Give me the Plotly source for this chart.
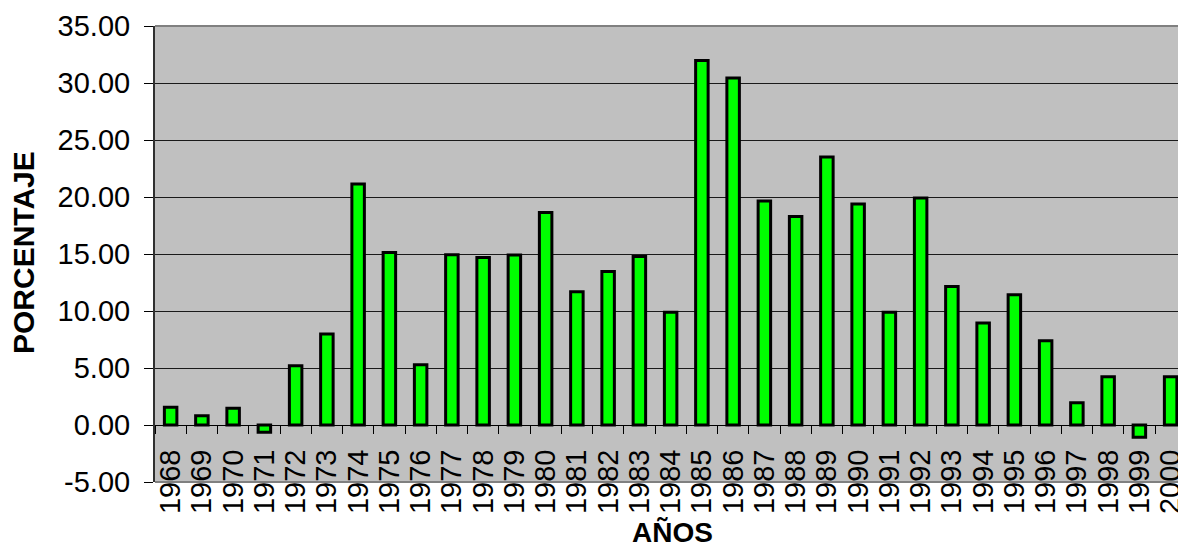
import plotly.graph_objects as go

# Annual percentage values, 1968-2000
years = [str(y) for y in range(1968, 2001)]
porcentaje = [
    1.55, 0.82, 1.46, -0.64, 5.20, 7.98, 21.14, 15.14, 5.29, 14.94,
    14.70, 14.91, 18.65, 11.69, 13.47, 14.79, 9.88, 31.98, 30.44, 19.65,
    18.30, 23.50, 19.39, 9.88, 19.91, 12.16, 8.95, 11.43, 7.39, 1.95,
    4.23, -1.08, 4.23,
]
y_ticks = [-5, 0, 5, 10, 15, 20, 25, 30, 35]
y_tick_text = [f"{v:.2f}" for v in y_ticks]

FONT = "Arial, 'Liberation Sans', sans-serif"
W, H = 1178, 548
L, R, T, B = 155, 0, 26, 66

fig = go.Figure(
    go.Bar(
        x=years,
        y=porcentaje,
        marker=dict(color="#00FF00", line=dict(color="#000000", width=3)),
        showlegend=False,
    )
)

fig.update_layout(
    width=W,
    height=H,
    margin=dict(l=L, r=R, t=T, b=B, pad=0, autoexpand=False),
    paper_bgcolor="#FFFFFF",
    plot_bgcolor="#C0C0C0",
    bargap=0.6,
    font=dict(family=FONT, size=29, color="#000000"),
    xaxis=dict(
        type="category",
        range=[-0.5, 32.236],
        anchor="free",
        position=5 / 40,
        automargin=False,
        tickmode="array",
        tickvals=years,
        ticktext=years,
        showline=True,
        linecolor="#000000",
        linewidth=1,
        ticks="outside",
        tickson="boundaries",
        ticklen=8,
        tickcolor="#000000",
        tickangle=-90,
        ticklabelstandoff=12,
        tickfont=dict(size=29),
        showgrid=False,
        zeroline=False,
    ),
    yaxis=dict(
        range=[-5, 35],
        automargin=False,
        tickvals=y_ticks,
        ticktext=y_tick_text,
        ticks="outside",
        ticklen=9,
        tickcolor="#000000",
        ticklabelstandoff=8,
        showline=True,
        linecolor="#303030",
        linewidth=2,
        showgrid=True,
        gridcolor="#1a1a1a",
        gridwidth=1,
        zeroline=False,
        tickfont=dict(size=29),
    ),
    shapes=[
        # plot-area frame (top and bottom edges)
        dict(type="line", xref="paper", yref="paper", x0=0, x1=1, y0=1, y1=1,
             line=dict(color="#808080", width=2)),
        dict(type="line", xref="paper", yref="paper", x0=0, x1=1, y0=0, y1=0,
             line=dict(color="#808080", width=2)),
    ],
    annotations=[
        dict(text="<b>PORCENTAJE</b>", xref="paper", yref="paper",
             x=(23 - L) / (W - L - R), y=(H - B - 253) / (H - T - B),
             xanchor="center", yanchor="middle", textangle=-90,
             showarrow=False, font=dict(size=30, family=FONT)),
        dict(text="<b>AÑOS</b>", xref="paper", yref="paper",
             x=(672 - L) / (W - L - R), y=(H - B - 532) / (H - T - B),
             xanchor="center", yanchor="middle",
             showarrow=False, font=dict(size=28, family=FONT)),
    ],
)

fig.write_html("out.html")
